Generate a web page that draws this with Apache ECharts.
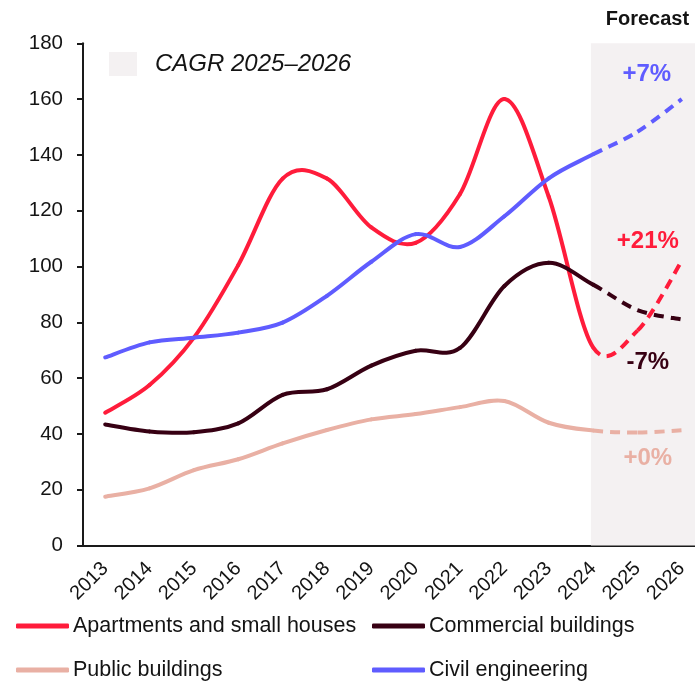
<!DOCTYPE html>
<html>
<head>
<meta charset="utf-8">
<script src="https://cdn.jsdelivr.net/npm/echarts@6/dist/echarts.min.js"></script>
<style>
  html, body { margin: 0; padding: 0; background: #fff; }
  #chart { width: 695px; height: 684px; }
</style>
</head>
<body>
<div id="chart"></div>
<script>
// categories
const years = ['2013', '2014', '2015', '2016', '2017', '2018', '2019', '2020', '2021', '2022', '2023', '2024', '2025', '2026'];
const forecastStart = '2024'; // dashed from here on

// index values 2013-2026 (2025-2026 forecast)
const apartments = [47.6, 57.5, 74.5, 100.5, 131.5, 131.5, 114, 108.5, 126, 160, 125, 71, 77, 102];
const commercial = [43.4, 40.9, 40.6, 43.8, 54, 56, 64.5, 69.8, 70.8, 93, 101.3, 93.5, 84.4, 81];
const publicBld  = [17.5, 20.5, 27, 30.9, 36.6, 41.4, 45.2, 47.1, 49.6, 51.8, 44, 41.2, 40.5, 41.3];
const civil      = [67.4, 72.8, 74.5, 76.3, 79.9, 89.5, 101.7, 111.6, 107, 118, 131.6, 140.2, 148.3, 160];

// CAGR 2025-2026 labels
const cagrLabels = ['+21%', '-7%', '+0%', '+7%'];

const yTicks = { min: 0, max: 180, interval: 20 };

const font = '"Liberation Sans", Arial, sans-serif';
const textColor = '#141414';

const lines = [
  { name: 'Apartments and small houses', color: '#ff1c3b', values: apartments, cagr: cagrLabels[0], offset: [-34, -20] },
  { name: 'Commercial buildings', color: '#370013', values: commercial, cagr: cagrLabels[1], offset: [-34, 43] },
  { name: 'Public buildings', color: '#e9b0a4', values: publicBld, cagr: cagrLabels[2], offset: [-34, 28] },
  { name: 'Civil engineering', color: '#5f5cff', values: civil, cagr: cagrLabels[3], offset: [-35, -25] }
];

const startIdx = years.indexOf(forecastStart);

// one cubic segment per data item (catmull-rom through the axis coords)
function makeRenderItem(color) {
  return function (params, api) {
    const i = params.dataIndexInside;
    const n = params.dataInsideLength;
    if (i >= n - 1) return null;
    const pt = k => {
      const kk = Math.max(0, Math.min(n - 1, k));
      return api.coord([api.value(0, kk), api.value(1, kk)]);
    };
    const p0 = pt(i - 1), p1 = pt(i), p2 = pt(i + 1), p3 = pt(i + 2);
    const c1 = [p1[0] + (p2[0] - p0[0]) / 6, p1[1] + (p2[1] - p0[1]) / 6];
    const c2 = [p2[0] - (p3[0] - p1[0]) / 6, p2[1] - (p3[1] - p1[1]) / 6];
    const dashed = i >= startIdx;
    return {
      type: 'bezierCurve',
      shape: { x1: p1[0], y1: p1[1], cpx1: c1[0], cpy1: c1[1], cpx2: c2[0], cpy2: c2[1], x2: p2[0], y2: p2[1] },
      style: {
        stroke: color,
        fill: null,
        lineWidth: 4,
        lineCap: dashed ? 'butt' : 'round',
        lineDash: dashed ? [10, 7] : null
      },
      silent: true
    };
  };
}

const series = [
  {
    // forecast shading
    type: 'line',
    xAxisIndex: 1,
    data: [],
    silent: true,
    markArea: {
      silent: true,
      itemStyle: { color: '#f4f1f2' },
      label: {
        show: true,
        position: 'top',
        distance: 14,
        formatter: 'Forecast',
        fontFamily: font,
        fontWeight: 'bold',
        fontSize: 20,
        color: textColor
      },
      data: [[{ xAxis: +forecastStart - 0.05, yAxis: yTicks.max }, { xAxis: +years[years.length - 1] + 0.5, yAxis: yTicks.min }]]
    }
  }
];

lines.forEach(l => {
  const last = years.length - 1;
  series.push({
    name: l.name,
    type: 'custom',
    renderItem: makeRenderItem(l.color),
    itemStyle: { color: l.color },
    encode: { x: 0, y: 1 },
    data: l.values.map((v, i) => [i, v]),
    z: 3,
    markPoint: {
      symbol: 'circle',
      symbolSize: 1,
      silent: true,
      itemStyle: { color: 'rgba(0,0,0,0)' },
      label: {
        show: true,
        position: 'inside',
        offset: l.offset,
        formatter: l.cagr,
        fontFamily: font,
        fontWeight: 'bold',
        fontSize: 24,
        color: l.color
      },
      data: [{ coord: [last, l.values[last]] }]
    }
  });
});

const legendBase = {
  orient: 'vertical',
  top: 615,
  padding: 0,
  itemGap: 22,
  itemWidth: 53,
  itemHeight: 5,
  icon: 'roundRect',
  selectedMode: false,
  textStyle: { fontFamily: font, fontSize: 21.5, color: textColor, lineHeight: 22, padding: [0, 0, 0, -1] }
};

const chart = echarts.init(document.getElementById('chart'));
chart.setOption({
  animation: false,
  backgroundColor: '#fff',
  grid: { left: 83, width: 621, top: 43.3, bottom: 138.5, outerBoundsMode: 'none', containLabel: false },
  xAxis: [
    {
      type: 'category',
      data: years,
      boundaryGap: true,
      axisLine: { lineStyle: { color: '#1a1a1a', width: 2 } },
      axisTick: { length: 6, lineStyle: { color: '#1a1a1a', width: 2 } },
      axisLabel: { rotate: 45, margin: 20, fontFamily: font, fontSize: 20, color: textColor, interval: 0 },
      splitLine: { show: false }
    },
    { type: 'value', min: +years[0] - 0.5, max: +years[years.length - 1] + 0.5, show: false }
  ],
  yAxis: {
    type: 'value',
    min: yTicks.min,
    max: yTicks.max,
    interval: yTicks.interval,
    axisLine: { show: true, lineStyle: { color: '#1a1a1a', width: 2 } },
    axisTick: { show: true, length: 6, lineStyle: { color: '#1a1a1a', width: 2 } },
    axisLabel: { margin: 20, fontFamily: font, fontSize: 20.5, color: textColor },
    splitLine: { show: false }
  },
  legend: [
    Object.assign({}, legendBase, { left: 16, data: [lines[0].name, lines[2].name] }),
    Object.assign({}, legendBase, { left: 372, data: [lines[1].name, lines[3].name] })
  ],
  graphic: [
    { type: 'rect', left: 109, top: 52, shape: { width: 28, height: 24 }, style: { fill: '#f4f1f2' } },
    { type: 'text', left: 155, top: 52, style: { text: 'CAGR 2025–2026', font: 'italic 24px ' + font, fill: textColor } }
  ],
  series: series
});
</script>
</body>
</html>
